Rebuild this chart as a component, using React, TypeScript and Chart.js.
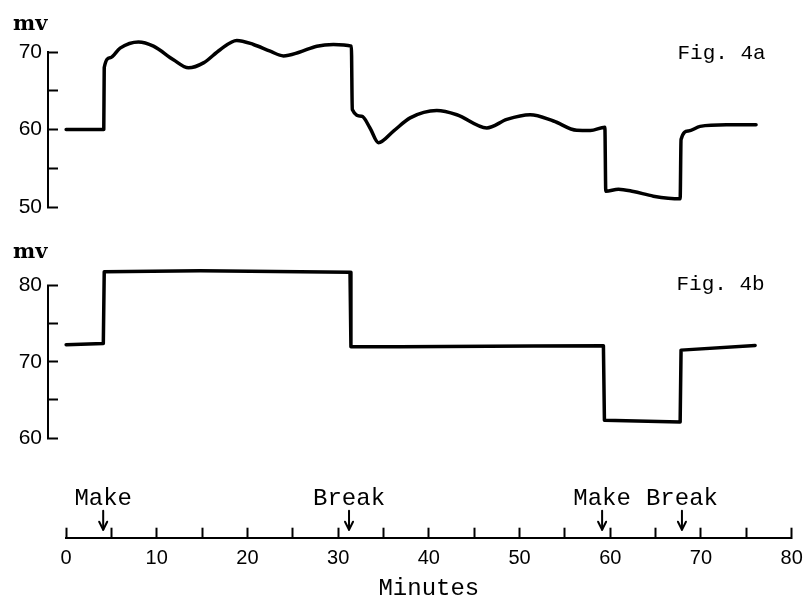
import React, { useEffect, useRef } from 'react';
import { Chart, registerables } from 'chart.js';

Chart.register(...registerables);

// ---------- Data ----------
const fig4aMinutes = [0, 4.15, 4.2, 4.85, 5.95, 7.97, 9.63, 11.83, 13.49, 15.14, 16.98, 18.82, 20.65, 22.5, 23.96, 25.7, 27.64, 29.47, 31.45, 31.55, 32.6, 33.5, 34.43, 36.09, 37.93, 40.87, 43.08, 46.38, 48.59, 51.16, 53.73, 56.3, 57.8, 59.4, 59.5, 60.9, 62.55, 64.75, 67.7, 67.8, 68.6, 69.9, 72.8, 76.07];
const fig4aMv = [60, 60, 68.0, 69.25, 70.5, 71.3, 70.75, 69.0, 67.96, 68.6, 70.3, 71.5, 70.97, 70.1, 69.5, 69.97, 70.75, 70.97, 70.75, 62.58, 61.7, 60.2, 58.3, 59.8, 61.5, 62.45, 61.9, 60.2, 61.3, 61.9, 61.1, 59.9, 59.87, 60.3, 52.04, 52.3, 52.0, 51.4, 51.05, 58.7, 59.8, 60.4, 60.6, 60.6];

const fig4bMinutes = [0, 4.1, 4.2, 14.8, 31.3, 31.4, 36.8, 51.5, 59.24, 59.35, 67.7, 67.8, 75.97];
const fig4bMv = [72.24, 72.4, 81.84, 81.97, 81.76, 71.97, 71.97, 72.07, 72.1, 62.33, 62.1, 71.54, 72.16];

const fig4aTicks = [50, 55, 60, 65, 70];
const fig4aTickLabels = [50, 60, 70];
const fig4bTicks = [60, 65, 70, 75, 80];
const fig4bTickLabels = [60, 70, 80];

const minuteTicks = [0, 5, 10, 15, 20, 25, 30, 35, 40, 45, 50, 55, 60, 65, 70, 75, 80];
const minuteTickLabels = [0, 10, 20, 30, 40, 50, 60, 70, 80];

const markerMinutes = [4.1, 31.2, 59.1, 67.9];
const markerLabels = ['Make', 'Break', 'Make', 'Break'];

const unitLabel = 'mv';
const fig4aTitle = 'Fig. 4a';
const fig4bTitle = 'Fig. 4b';
const xAxisTitle = 'Minutes';

// ---------- Styles ----------
const INK = '#000';
const MONO = '"Liberation Mono", "DejaVu Sans Mono", monospace';
const NUM = '"Liberation Sans", Arial, sans-serif';

const panelTextPlugin = {
  id: 'panelText',
  afterDraw(chart: any, _args: any, opts: any) {
    const { ctx, chartArea } = chart;
    ctx.save();
    ctx.fillStyle = INK;
    ctx.textBaseline = 'alphabetic';
    ctx.font = 'bold 21px "DejaVu Serif", serif';
    ctx.textAlign = 'left';
    ctx.fillText(opts.unit, chartArea.left + opts.unitDx, chartArea.top + opts.unitDy);
    ctx.font = `21px ${MONO}`;
    ctx.textAlign = 'right';
    ctx.fillText(opts.figure, chartArea.right + opts.figDx, chartArea.top + opts.figDy);
    ctx.restore();
  },
};

const markerPlugin = {
  id: 'markers',
  afterDraw(chart: any) {
    const { ctx } = chart;
    const xs = chart.scales.x;
    const axisY = xs.top;
    ctx.save();
    ctx.fillStyle = INK;
    ctx.strokeStyle = INK;
    ctx.lineWidth = 2;
    ctx.lineCap = 'round';
    ctx.lineJoin = 'round';
    ctx.font = `24px ${MONO}`;
    ctx.textAlign = 'center';
    ctx.textBaseline = 'alphabetic';
    markerMinutes.forEach((m, i) => {
      const px = xs.getPixelForValue(m);
      ctx.fillText(markerLabels[i], px, axisY - 33);
      ctx.beginPath();
      ctx.moveTo(px, axisY - 27);
      ctx.lineTo(px, axisY - 8);
      ctx.stroke();
      ctx.beginPath();
      ctx.moveTo(px - 4, axisY - 16);
      ctx.lineTo(px, axisY - 8);
      ctx.lineTo(px + 4, axisY - 16);
      ctx.stroke();
    });
    ctx.restore();
  },
};

function panelConfig(
  xs: number[], ys: number[], ticks: number[], labels: number[],
  smooth: boolean, pad: any, text: any
) {
  return {
    type: 'line',
    data: {
      datasets: [{
        data: xs.map((x, i) => ({ x, y: ys[i] })),
        borderColor: INK,
        borderWidth: 3.5,
        pointRadius: 0,
        fill: false,
        clip: false,
        tension: 0,
        cubicInterpolationMode: smooth ? 'monotone' : 'default',
        borderJoinStyle: 'round',
        borderCapStyle: 'round',
      }],
    },
    options: {
      responsive: false,
      maintainAspectRatio: false,
      animation: false,
      devicePixelRatio: 1,
      events: [],
      layout: { padding: pad },
      plugins: {
        legend: { display: false },
        tooltip: { enabled: false },
        panelText: text,
      },
      scales: {
        x: { type: 'linear', min: -2, max: 80, display: false },
        y: {
          type: 'linear',
          min: ticks[0],
          max: ticks[ticks.length - 1],
          afterFit: (s: any) => {
            s.width = 48;
            s.paddingTop = 0;
            s.paddingBottom = 0;
          },
          afterBuildTicks: (s: any) => { s.ticks = ticks.map((v) => ({ value: v })); },
          border: { display: true, color: INK, width: 2 },
          grid: {
            drawOnChartArea: false,
            drawTicks: true,
            tickLength: -10,
            tickWidth: 2,
            tickColor: INK,
            color: INK,
          },
          ticks: {
            color: INK,
            padding: 16,
            autoSkip: false,
            font: { family: NUM, size: 21 },
            callback: (v: any) => (labels.includes(Number(v)) ? String(v) : ''),
          },
        },
      },
    },
    plugins: [panelTextPlugin],
  };
}

const axisConfig: any = {
  type: 'line',
  data: { datasets: [] },
  options: {
    responsive: false,
    maintainAspectRatio: false,
    animation: false,
    devicePixelRatio: 1,
    events: [],
    layout: { padding: { left: 66, right: 12.3, top: 0, bottom: 0 } },
    plugins: { legend: { display: false }, tooltip: { enabled: false } },
    scales: {
      y: { display: false, min: 0, max: 1 },
      x: {
        type: 'linear',
        position: 'bottom',
        min: minuteTicks[0],
        max: minuteTicks[minuteTicks.length - 1],
        afterFit: (s: any) => {
          s.height = 62.3;
          s.paddingLeft = 0;
          s.paddingRight = 0;
        },
        afterBuildTicks: (s: any) => { s.ticks = minuteTicks.map((v) => ({ value: v })); },
        border: { display: true, color: INK, width: 2 },
        grid: {
          drawOnChartArea: false,
          drawTicks: true,
          tickLength: -10,
          tickWidth: 2,
          tickColor: INK,
          color: INK,
        },
        ticks: {
          color: INK,
          padding: 19,
          autoSkip: false,
          maxRotation: 0,
          font: { family: NUM, size: 20 },
          callback: (v: any) => (minuteTickLabels.includes(Number(v)) ? String(v) : ''),
        },
        title: {
          display: true,
          text: xAxisTitle,
          color: INK,
          font: { family: MONO, size: 24, lineHeight: 1 },
          padding: { top: 0, bottom: -1 },
        },
      },
    },
  },
  plugins: [markerPlugin],
};

function ChartCanvas({ config, top, height }: { config: any; top: number; height: number }) {
  const ref = useRef<HTMLCanvasElement | null>(null);
  useEffect(() => {
    if (!ref.current) return;
    const chart = new Chart(ref.current, config);
    return () => chart.destroy();
  }, [config]);
  return (
    <canvas
      ref={ref}
      width={804}
      height={height}
      style={{ position: 'absolute', left: 0, top, width: 804, height, display: 'block' }}
    />
  );
}

const configA = panelConfig(
  fig4aMinutes, fig4aMv, fig4aTicks, fig4aTickLabels, true,
  { left: 0, right: 12.3, top: 52, bottom: 23 },
  { unit: unitLabel, unitDx: -35, unitDy: -22, figure: fig4aTitle, figDx: -26, figDy: 7 }
);

const configB = panelConfig(
  fig4bMinutes, fig4bMv, fig4bTicks, fig4bTickLabels, false,
  { left: 0, right: 12.3, top: 55.7, bottom: 32 },
  { unit: unitLabel, unitDx: -35, unitDy: -28, figure: fig4bTitle, figDx: -27, figDy: 4 }
);

export default function App() {
  return (
    <div style={{ position: 'absolute', left: 0, top: 0, width: 804, height: 600, background: '#fff', overflow: 'hidden' }}>
      <ChartCanvas config={configA} top={0} height={230} />
      <ChartCanvas config={configB} top={230} height={240} />
      <ChartCanvas config={axisConfig} top={470} height={130} />
    </div>
  );
}
